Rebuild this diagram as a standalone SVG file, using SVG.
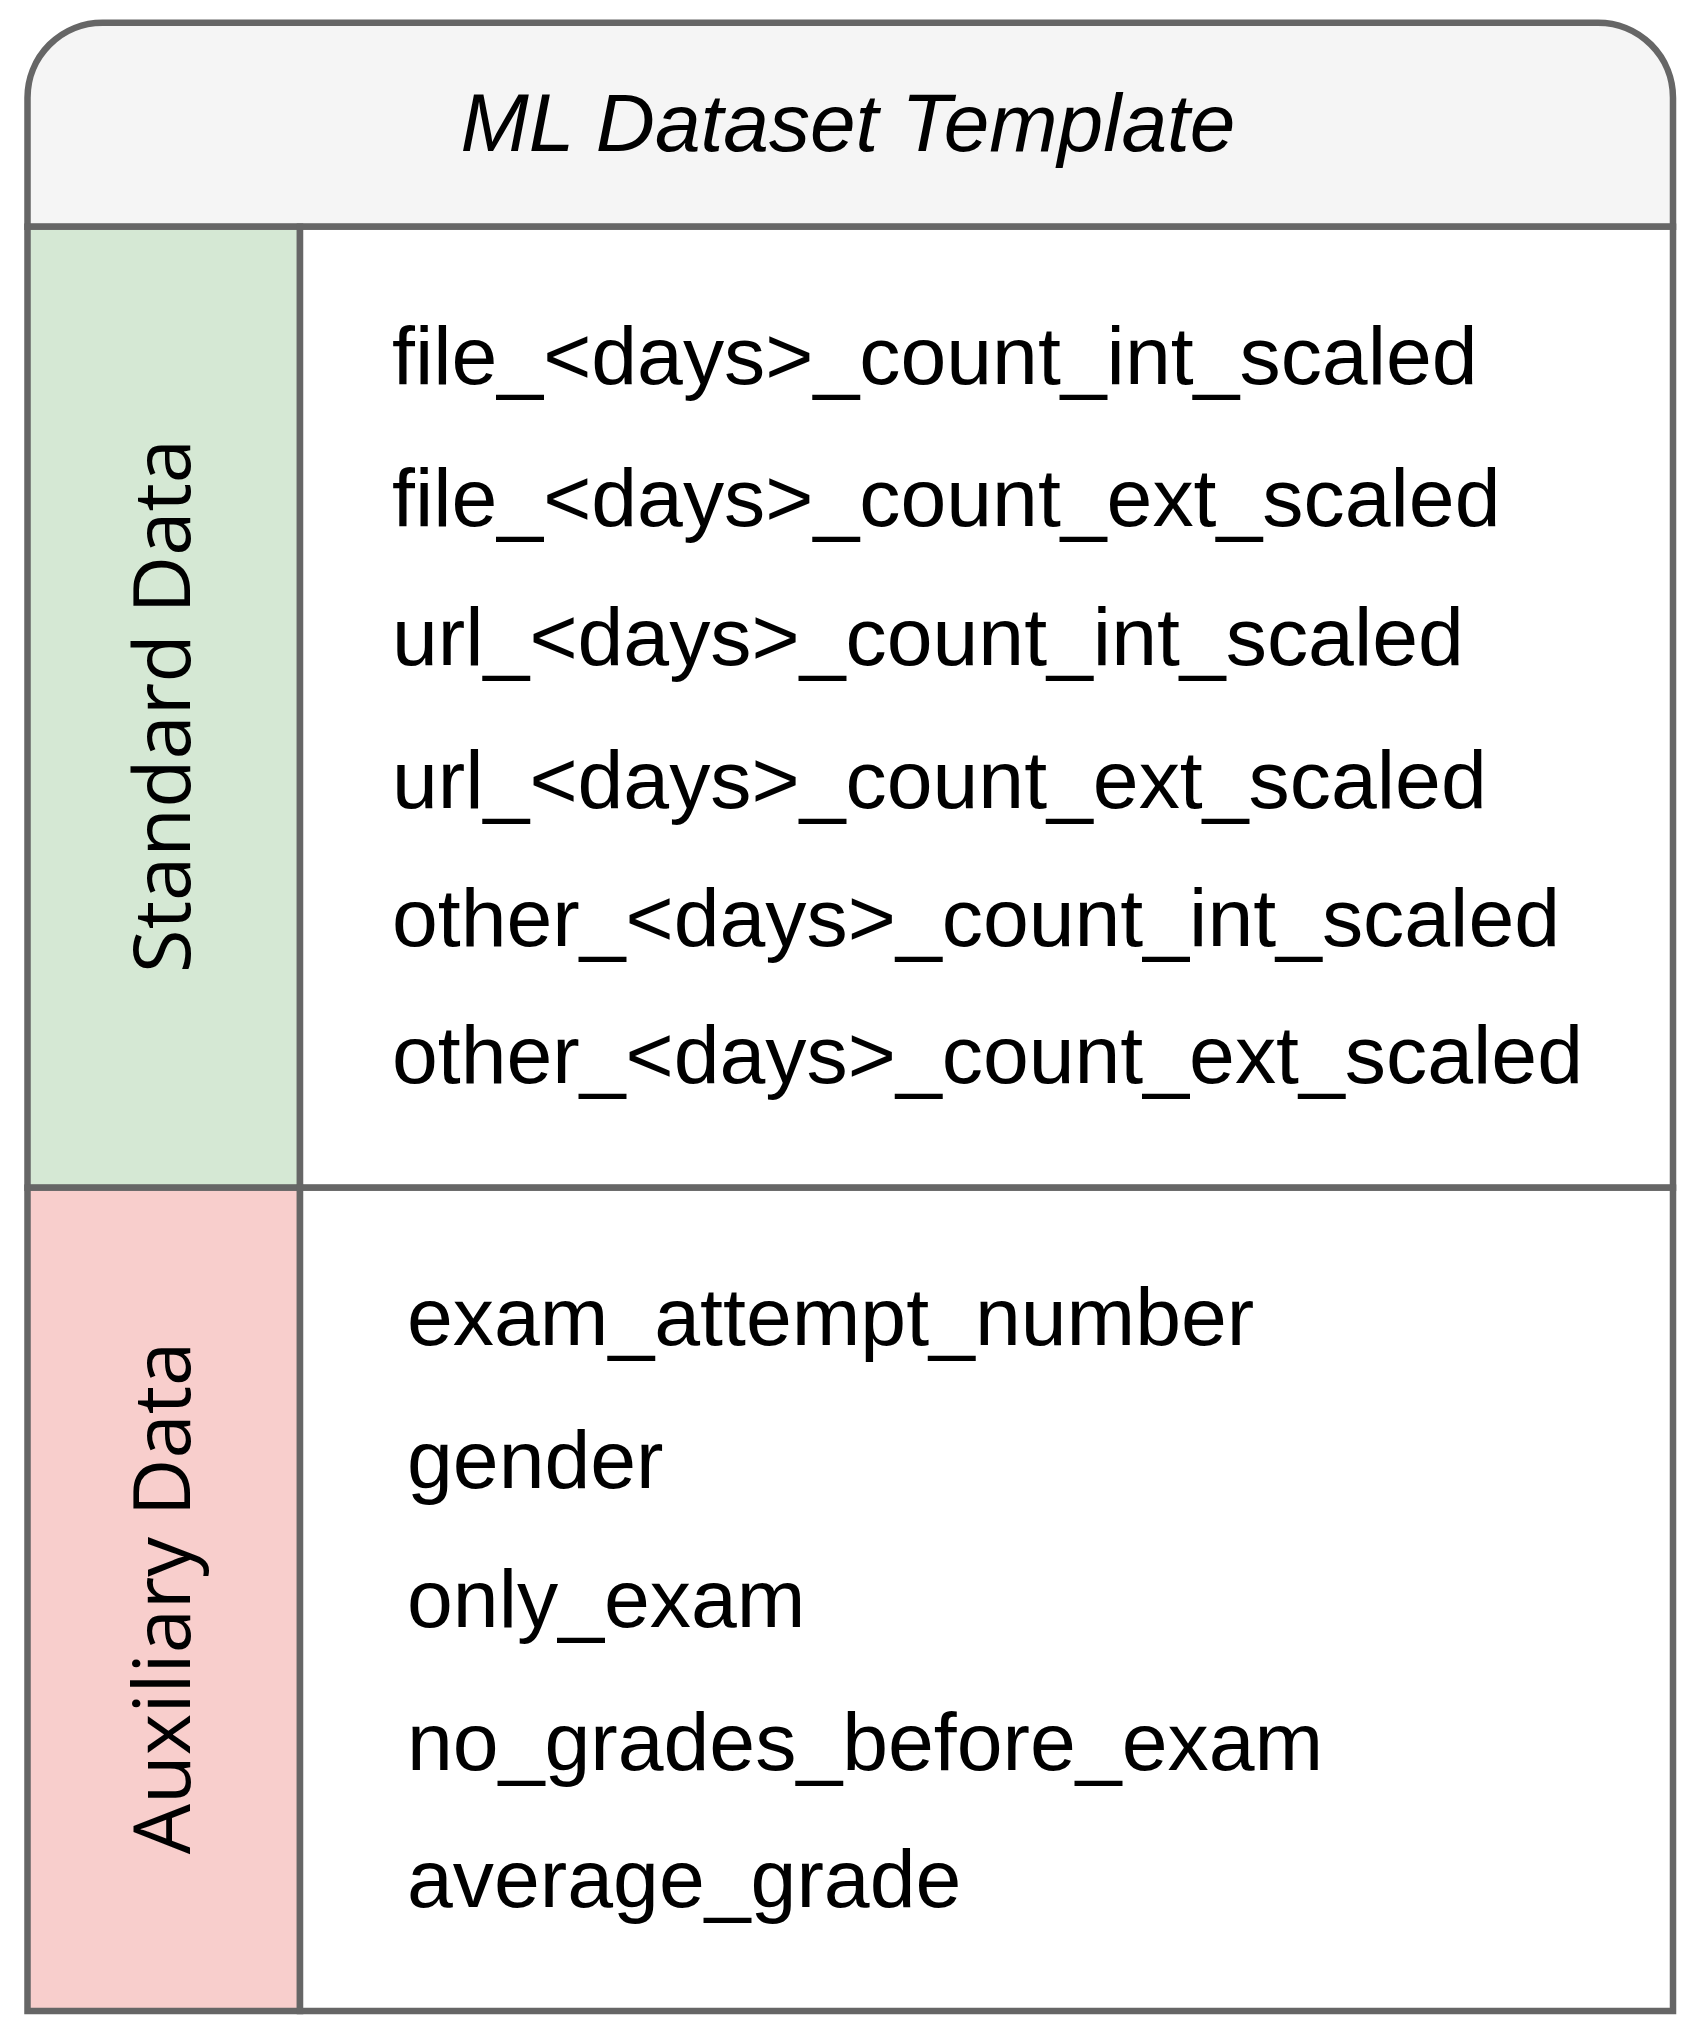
<svg xmlns="http://www.w3.org/2000/svg" width="1697" height="2038" viewBox="0 0 1697 2038">
<style>
.ln{stroke:#666666;stroke-width:6.5;fill:none}
.bx{stroke:#666666;stroke-width:6.5}
.t{font-family:"Liberation Sans",Arial,sans-serif;font-size:82.4px;fill:#000000}
.ti{font-family:"Liberation Sans",Arial,sans-serif;font-size:82px;font-style:italic;fill:#000000}
.v{font-family:"Open Sans","Noto Sans",sans-serif;font-size:79.5px;fill:#000000}
</style>
<rect width="1697" height="2038" fill="#ffffff"/>
<g id="header">
<path class="bx" fill="#f5f5f5" d="M27.5,226.7 V97.7 A75,75 0 0 1 102.5,22.7 H1598 A75,75 0 0 1 1673,97.7 V226.7 Z"/>
<text class="ti" x="848" y="151" text-anchor="middle">ML Dataset Template</text>
</g>
<g id="standard-data">
<rect class="bx" x="27.5" y="226.7" width="272.5" height="961" fill="#d5e8d4"/>
<rect class="bx" x="300" y="226.7" width="1373" height="961" fill="#ffffff"/>
<text class="v" transform="translate(190,706) rotate(-90)" text-anchor="middle">Standard Data</text>
<text class="t" x="392" y="384">file_&lt;days&gt;_count_int_scaled</text>
<text class="t" x="392" y="526">file_&lt;days&gt;_count_ext_scaled</text>
<text class="t" x="392" y="665">url_&lt;days&gt;_count_int_scaled</text>
<text class="t" x="392" y="808">url_&lt;days&gt;_count_ext_scaled</text>
<text class="t" x="392" y="946">other_&lt;days&gt;_count_int_scaled</text>
<text class="t" x="392" y="1083">other_&lt;days&gt;_count_ext_scaled</text>
</g>
<g id="auxiliary-data">
<rect class="bx" x="27.5" y="1187.7" width="272.5" height="823.3" fill="#f8cecc"/>
<rect class="bx" x="300" y="1187.7" width="1373" height="823.3" fill="#ffffff"/>
<text class="v" transform="translate(190,1598) rotate(-90)" text-anchor="middle">Auxiliary Data</text>
<text class="t" x="407" y="1345">exam_attempt_number</text>
<text class="t" x="407" y="1488">gender</text>
<text class="t" x="407" y="1627">only_exam</text>
<text class="t" x="407" y="1770">no_grades_before_exam</text>
<text class="t" x="407" y="1907">average_grade</text>
</g>
<g id="connectors"></g>
</svg>
